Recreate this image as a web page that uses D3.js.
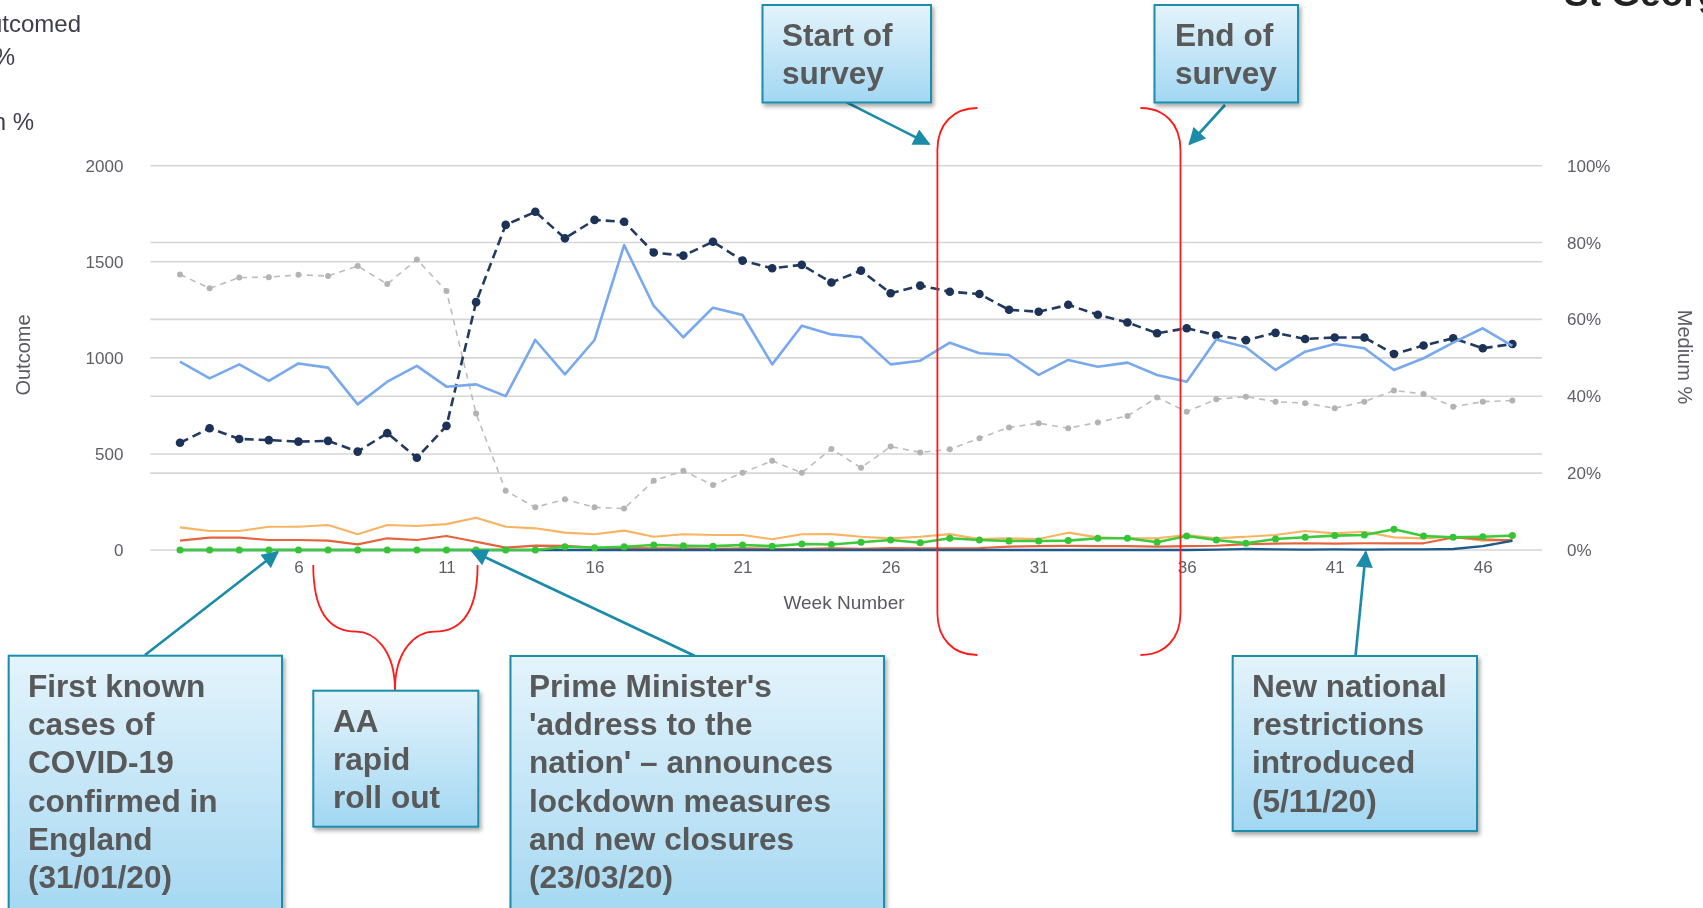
<!DOCTYPE html>
<html>
<head>
<meta charset="utf-8">
<script src="https://cdn.jsdelivr.net/npm/d3@7"></script>
<style>
  html, body { margin: 0; padding: 0; background: #fff; overflow: hidden; }
  svg { display: block; font-family: "Liberation Sans", Arial, sans-serif; }
</style>
</head>
<body>
<svg id="chart" width="1703" height="908"></svg>
<script>
// ---- Data: weekly values, weeks 2 to 47 ----
const weeks = [2,3,4,5,6,7,8,9,10,11,12,13,14,15,16,17,18,19,20,21,22,23,24,
  25,26,27,28,29,30,31,32,33,34,35,36,37,38,39,40,41,42,43,44,45,46,47];

// Right axis (Medium %)
const mediumA = [27.9,31.7,28.9,28.6,28.2,28.4,25.6,30.4,24.0,32.3,
  64.5,84.6,88.0,81.1,85.9,85.4,77.4,76.6,80.2,75.3,73.3,74.2,69.6,72.7,66.8,68.8,67.2,66.6,
  62.5,62.0,63.8,61.2,59.2,56.4,57.7,55.9,54.6,56.5,54.9,55.3,55.3,51.0,53.2,55.1,52.5,53.6];
const mediumB = [71.7,68.1,70.9,71.0,71.6,71.3,73.9,69.2,75.6,67.4,
  35.5,15.4,11.1,13.2,11.1,10.8,18.0,20.6,16.9,20.1,23.2,20.1,26.3,21.4,26.9,25.4,26.2,29.1,
  31.9,33.0,31.7,33.2,34.9,39.7,36.0,39.2,39.9,38.6,38.2,36.9,38.6,41.5,40.6,37.3,38.6,38.9];

// Left axis (Outcome)
const outcomeTotal = [980,893,966,880,971,949,758,876,958,850,
  862,801,1093,914,1093,1587,1270,1107,1261,1223,
  966,1167,1122,1107,966,985,1079,1024,1015,
  911,989,954,975,911,876,1096,1055,937,1032,
  1072,1050,937,998,1079,1154,1062];
const outcomeOrange = [118,99,99,121,121,130,82,130,125,135,
  168,121,113,90,82,101,69,82,78,78,
  56,82,83,69,61,69,83,57,61,
  57,90,66,61,61,78,61,69,78,99,
  87,95,66,61,69,49,52];
const outcomeRed = [49,64,64,52,52,49,29,61,52,73,
  43,12,23,21,12,10,8,8,6,8,
  6,5,8,6,10,8,8,10,18,
  20,21,20,20,18,20,22,30,33,35,
  33,35,35,35,65,55,50];
const outcomeGreen = [0,0,0,0,0,0,0,0,0,0,
  0,0,0,17,12,17,26,22,20,26,
  20,31,29,40,52,38,61,52,47,
  47,49,61,61,40,73,52,35,57,66,
  75,78,108,73,66,69,75];
const outcomeDarkBlue = [0,0,0,0,0,0,0,0,0,0,
  0,0,0,0,0,0,0,0,0,0,
  0,0,0,0,0,0,0,0,0,
  0,0,0,0,0,0,2,5,3,2,
  3,2,3,3,5,20,48];

const leftTicks = [0, 500, 1000, 1500, 2000];
const rightTicks = [0, 20, 40, 60, 80, 100];
const weekTicks = [6, 11, 16, 21, 26, 31, 36, 41, 46];

// ---- Layout ----
const svg = d3.select("#chart");
const plot = { left: 150.4, right: 1542, top: 165.7, bottom: 550 };

const x = d3.scaleLinear().domain([1, 48]).range([plot.left, plot.right]);
const yL = d3.scaleLinear().domain([0, 2000]).range([plot.bottom, plot.top]);
const yR = d3.scaleLinear().domain([0, 100]).range([plot.bottom, plot.top]);

const defs = svg.append("defs");
const soft = defs.append("filter").attr("id", "soft")
  .attr("x", "-5%").attr("y", "-5%").attr("width", "110%").attr("height", "110%");
soft.append("feGaussianBlur").attr("stdDeviation", 0.55);

const shadow = defs.append("filter").attr("id", "shadow")
  .attr("x", "-10%").attr("y", "-10%").attr("width", "130%").attr("height", "130%");
shadow.append("feDropShadow").attr("dx", 2).attr("dy", 3).attr("stdDeviation", 2)
  .attr("flood-color", "#000").attr("flood-opacity", 0.35);

const grad = defs.append("linearGradient").attr("id", "boxGrad")
  .attr("x1", 0).attr("y1", 0).attr("x2", 0).attr("y2", 1);
grad.append("stop").attr("offset", "0%").attr("stop-color", "#e4f4fc");
grad.append("stop").attr("offset", "100%").attr("stop-color", "#a2d7f2");

const gradTall = defs.append("linearGradient").attr("id", "boxGradTall")
  .attr("x1", 0).attr("y1", 0).attr("x2", 0).attr("y2", 1);
gradTall.append("stop").attr("offset", "0%").attr("stop-color", "#e4f4fc");
gradTall.append("stop").attr("offset", "100%").attr("stop-color", "#9fd5f1");

defs.append("marker").attr("id", "arrowHead")
  .attr("viewBox", "0 0 10 10").attr("refX", 9).attr("refY", 5)
  .attr("markerUnits", "userSpaceOnUse")
  .attr("markerWidth", 19).attr("markerHeight", 17).attr("orient", "auto")
  .append("path").attr("d", "M0,0 L10,5 L0,10 z").attr("fill", "#1a8ba8");

// ---- Chart group (soft rendering) ----
const chart = svg.append("g").attr("filter", "url(#soft)");

// Gridlines for both axes
const gridVals = [
  ...leftTicks.map(v => yL(v)),
  ...rightTicks.filter(p => p > 0 && p < 100).map(p => yR(p))
];
chart.append("g").selectAll("line").data(gridVals).join("line")
  .attr("x1", plot.left).attr("x2", plot.right)
  .attr("y1", d => d).attr("y2", d => d)
  .attr("stroke", "#d6d6d6").attr("stroke-width", 1.6);

// Left axis
const axisL = chart.append("g").attr("transform", `translate(${plot.left - 27},0)`)
  .call(d3.axisLeft(yL).tickValues(leftTicks).tickSize(0).tickPadding(0).tickFormat(d3.format("d")));
axisL.select(".domain").remove();
axisL.selectAll("text").attr("font-size", 17).attr("fill", "#5e5e66")
  .attr("font-family", "'Liberation Sans', Arial, sans-serif");

// Right axis
const axisR = chart.append("g").attr("transform", `translate(${plot.right + 25},0)`)
  .call(d3.axisRight(yR).tickValues(rightTicks).tickSize(0).tickPadding(0).tickFormat(d => d + "%"));
axisR.select(".domain").remove();
axisR.selectAll("text").attr("font-size", 17).attr("fill", "#5e5e66")
  .attr("font-family", "'Liberation Sans', Arial, sans-serif");

// Bottom axis
const axisB = chart.append("g").attr("transform", `translate(0,${plot.bottom + 11})`)
  .call(d3.axisBottom(x).tickValues(weekTicks).tickSize(0).tickPadding(0).tickFormat(d3.format("d")));
axisB.select(".domain").remove();
axisB.selectAll("text").attr("font-size", 17).attr("fill", "#5e5e66")
  .attr("font-family", "'Liberation Sans', Arial, sans-serif");

// Axis titles
chart.append("text").attr("transform", "translate(30,355) rotate(-90)")
  .attr("text-anchor", "middle").attr("font-size", 20).attr("fill", "#5a5a62").text("Outcome");
chart.append("text").attr("transform", "translate(1678,357) rotate(90)")
  .attr("text-anchor", "middle").attr("font-size", 20).attr("fill", "#5a5a62").text("Medium %");
chart.append("text").attr("x", 844).attr("y", 609)
  .attr("text-anchor", "middle").attr("font-size", 19).attr("fill", "#5a5a62").text("Week Number");

// Series
function seriesLine(values, yScale) {
  return d3.line().x((d, i) => x(weeks[i])).y(d => yScale(d))(values);
}
function addSeries(values, yScale, opt) {
  chart.append("path").attr("d", seriesLine(values, yScale))
    .attr("fill", "none").attr("stroke", opt.color).attr("stroke-width", opt.width)
    .attr("stroke-dasharray", opt.dash || null).attr("stroke-linejoin", "round");
  if (opt.r) {
    chart.append("g").selectAll("circle").data(values).join("circle")
      .attr("cx", (d, i) => x(weeks[i])).attr("cy", d => yScale(d))
      .attr("r", opt.r).attr("fill", opt.dot || opt.color);
  }
}

addSeries(mediumB, yR, { color: "#bdbdbd", width: 1.6, dash: "6,5", r: 3, dot: "#b3b3b3" });
addSeries(mediumA, yR, { color: "#213a5e", width: 2.6, dash: "9,5", r: 4.3, dot: "#1b3156" });
addSeries(outcomeTotal, yL, { color: "#78a8ee", width: 2.6 });
addSeries(outcomeOrange, yL, { color: "#f8b463", width: 2.2 });
addSeries(outcomeRed, yL, { color: "#e5633d", width: 2.2 });
addSeries(outcomeDarkBlue, yL, { color: "#1d5a8c", width: 2.4 });
addSeries(outcomeGreen, yL, { color: "#3ccb3c", width: 2.6, r: 3.5, dot: "#36c436" });

// Legend and header text running off the page edges
chart.append("text").attr("x", 81).attr("y", 32).attr("text-anchor", "end")
  .attr("font-size", 24).attr("fill", "#3e3e4c").text("Outcomed");
chart.append("text").attr("x", 15).attr("y", 65).attr("text-anchor", "end")
  .attr("font-size", 24).attr("fill", "#3e3e4c").text("%");
chart.append("text").attr("x", 34).attr("y", 130).attr("text-anchor", "end")
  .attr("font-size", 24).attr("fill", "#3e3e4c").text("n %");
svg.append("text").attr("x", 1564).attr("y", 6)
  .attr("font-size", 37).attr("font-weight", "bold").attr("fill", "#222").text("St George's");

// ---- Annotations ----
const ann = svg.append("g");
const red = "#ff1a1a";

// Survey brackets
const bl = x(27.58), br = x(35.79);
ann.append("path")
  .attr("d", `M${bl + 40},108 C${bl + 16},108 ${bl},124 ${bl},150 L${bl},613 C${bl},639 ${bl + 16},655 ${bl + 40},655`)
  .attr("fill", "none").attr("stroke", red).attr("stroke-width", 1.8);
ann.append("path")
  .attr("d", `M${br - 40},108 C${br - 16},108 ${br},124 ${br},150 L${br},613 C${br},639 ${br - 16},655 ${br - 40},655`)
  .attr("fill", "none").attr("stroke", red).attr("stroke-width", 1.8);

// Brace under weeks 6.5 to 12
const aL = x(6.5), aR = x(12.05), aM = x(9.26);
ann.append("path")
  .attr("d", `M${aL},565 C${aL},612 ${aL + 16},631.7 ${aL + 43},631.7 C${aM - 22},631.7 ${aM},648 ${aM},690`)
  .attr("fill", "none").attr("stroke", red).attr("stroke-width", 1.8);
ann.append("path")
  .attr("d", `M${aR},565 C${aR},612 ${aR - 16},631.7 ${aR - 43},631.7 C${aM + 22},631.7 ${aM},648 ${aM},690`)
  .attr("fill", "none").attr("stroke", red).attr("stroke-width", 1.8);

// Arrows
const arrows = [
  [145, 655, x(5.3), 552],
  [695, 656, x(11.86), 551],
  [1355.5, 656, x(42.05), 552],
  [846.7, 102.3, 929, 144],
  [1225, 105, 1189.5, 144]
];
ann.append("g").selectAll("line").data(arrows).join("line")
  .attr("x1", d => d[0]).attr("y1", d => d[1]).attr("x2", d => d[2]).attr("y2", d => d[3])
  .attr("stroke", "#1a8ba8").attr("stroke-width", 2.6).attr("marker-end", "url(#arrowHead)");

// Callout boxes
const boxes = [
  { x0: 8.7, y0: 655.7, x1: 282, y1: 940, tx: 28, ty: 696.7, fill: "url(#boxGradTall)",
    lines: ["First known", "cases of", "COVID-19", "confirmed in", "England", "(31/01/20)"] },
  { x0: 313.3, y0: 690.7, x1: 478.3, y1: 826.7, tx: 333, ty: 731.7, fill: "url(#boxGrad)",
    lines: ["AA", "rapid", "roll out"] },
  { x0: 510.5, y0: 656, x1: 884, y1: 940, tx: 529, ty: 696.7, fill: "url(#boxGradTall)",
    lines: ["Prime Minister's", "'address to the", "nation' \u2013 announces", "lockdown measures", "and new closures", "(23/03/20)"] },
  { x0: 1232.7, y0: 656, x1: 1477, y1: 831, tx: 1252, ty: 696.7, fill: "url(#boxGrad)",
    lines: ["New national", "restrictions", "introduced", "(5/11/20)"] },
  { x0: 762.5, y0: 5, x1: 931, y1: 102.5, tx: 782, ty: 45.7, fill: "url(#boxGrad)",
    lines: ["Start of", "survey"] },
  { x0: 1154.5, y0: 5, x1: 1298, y1: 102.5, tx: 1175, ty: 45.7, fill: "url(#boxGrad)",
    lines: ["End of", "survey"] }
];

const bg = ann.selectAll("g.box").data(boxes).join("g").attr("class", "box");
bg.append("rect")
  .attr("x", d => d.x0).attr("y", d => d.y0)
  .attr("width", d => d.x1 - d.x0).attr("height", d => d.y1 - d.y0)
  .attr("fill", d => d.fill).attr("stroke", "#1b8dab").attr("stroke-width", 2)
  .attr("filter", "url(#shadow)");
bg.append("text")
  .attr("font-size", 31.6).attr("font-weight", "bold").attr("fill", "#595959")
  .each(function(d) {
    d3.select(this).selectAll("tspan").data(d.lines).join("tspan")
      .attr("x", d.tx).attr("y", (t, i) => d.ty + i * 38.3).text(t => t);
  });
</script>
</body>
</html>
